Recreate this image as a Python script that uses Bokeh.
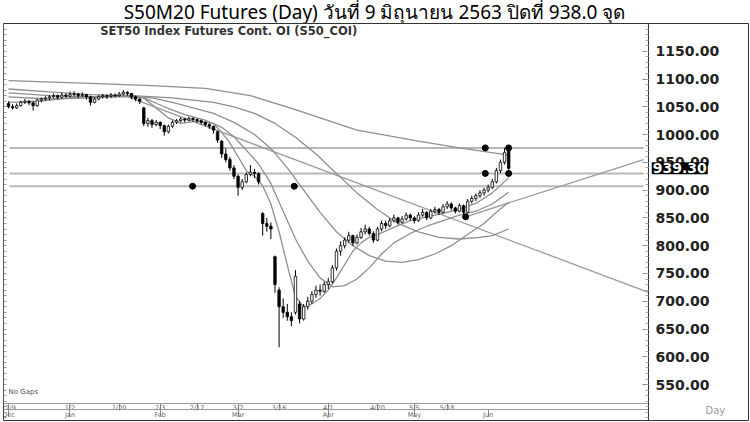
from bokeh.plotting import figure
from bokeh.models import Range1d, LinearAxis, FixedTicker, NumeralTickFormatter, Label, Div, ColumnDataSource
from bokeh.layouts import column
from bokeh.embed import file_html
from bokeh.resources import INLINE
from bokeh.core.properties import value

title_text = "S50M20 Futures (Day) วันที่ 9 มิถุนายน 2563 ปิดที่ 938.0 จุด"
chart_label = "SET50 Index Futures Cont. OI (S50_COI)"

# ---- OHLC (bar index 0 = 9 Dec 2019 ... 122 = 9 Jun 2020) ----
opens = [1056, 1050, 1048, 1052, 1058, 1060, 1057, 1052, 1062, 1064,
         1066, 1068, 1070, 1067, 1071, 1069, 1072, 1073, 1070, 1072,
         1068, 1058, 1064, 1068, 1070, 1069, 1071, 1070, 1073, 1076,
         1074, 1068, 1064, 1048, 1020, 1025, 1018, 1022, 1016, 1005,
         1015, 1022, 1025, 1028, 1026, 1029, 1027, 1025, 1022, 1018,
         1015, 1005, 988, 965, 955, 940, 925, 905, 915, 928,
         932, 930, 858, 840, 835, 780, 720, 690, 680, 672,
         680, 695, 668, 690, 700, 712, 720, 718, 730, 735,
         760, 790, 800, 810, 818, 805, 815, 825, 830, 822,
         810, 830, 840, 836, 845, 850, 842, 848, 855, 850,
         845, 855, 860, 850, 862, 865, 860, 870, 875, 868,
         862, 872, 860, 880, 885, 890, 895, 900, 905, 915,
         935, 950, 972]
highs = [1060, 1055, 1056, 1061, 1064, 1062, 1060, 1064, 1067, 1069,
         1071, 1074, 1072, 1075, 1074, 1077, 1078, 1075, 1076, 1073,
         1070, 1067, 1071, 1073, 1072, 1075, 1074, 1077, 1080, 1078,
         1075, 1070, 1066, 1050, 1030, 1028, 1026, 1024, 1018, 1018,
         1025, 1028, 1031, 1030, 1032, 1031, 1029, 1027, 1024, 1020,
         1016, 1007, 990, 975, 960, 945, 928, 920, 932, 945,
         938, 932, 860, 850, 842, 782, 725, 705, 695, 680,
         756, 700, 695, 708, 718, 728, 730, 735, 742, 765,
         795, 808, 815, 825, 820, 820, 832, 838, 834, 826,
         834, 845, 845, 850, 856, 852, 853, 860, 858, 853,
         860, 866, 862, 866, 870, 868, 875, 880, 878, 870,
         876, 874, 884, 890, 894, 900, 904, 910, 920, 940,
         955, 976, 977]
lows = [1047, 1045, 1046, 1050, 1055, 1053, 1043, 1050, 1058, 1061,
        1062, 1065, 1063, 1065, 1066, 1067, 1069, 1066, 1068, 1063,
        1052, 1056, 1062, 1065, 1064, 1066, 1067, 1068, 1071, 1070,
        1064, 1060, 1055, 1015, 1014, 1012, 1015, 1010, 998, 1002,
        1012, 1019, 1022, 1022, 1024, 1023, 1021, 1018, 1014, 1010,
        1002, 985, 958, 950, 935, 920, 890, 900, 912, 925,
        922, 910, 818, 825, 812, 715, 617, 670, 665, 655,
        676, 660, 665, 685, 695, 706, 710, 715, 722, 732,
        755, 782, 795, 805, 800, 802, 812, 820, 818, 805,
        808, 826, 830, 833, 842, 838, 840, 845, 845, 840,
        843, 852, 846, 848, 858, 855, 858, 866, 864, 858,
        860, 852, 858, 876, 880, 886, 890, 896, 902, 912,
        930, 946, 932]
closes = [1050, 1048, 1052, 1058, 1060, 1057, 1052, 1062, 1064, 1066,
          1068, 1070, 1067, 1071, 1069, 1072, 1073, 1070, 1072, 1068,
          1058, 1064, 1068, 1070, 1069, 1071, 1070, 1073, 1076, 1074,
          1068, 1064, 1060, 1020, 1025, 1018, 1022, 1016, 1005, 1015,
          1022, 1025, 1028, 1026, 1029, 1027, 1025, 1022, 1018, 1015,
          1008, 990, 965, 955, 940, 925, 905, 915, 928, 932,
          930, 915, 840, 835, 830, 730, 690, 680, 672, 665,
          745, 668, 690, 700, 712, 720, 718, 730, 735, 760,
          790, 800, 810, 818, 805, 815, 825, 830, 822, 810,
          830, 840, 836, 845, 850, 842, 848, 855, 850, 845,
          855, 860, 850, 862, 865, 860, 870, 875, 868, 862,
          872, 860, 880, 885, 890, 895, 900, 905, 915, 935,
          950, 968, 939.3]
last_price = "939.30"

# ---- moving averages (sampled at bar index) ----
ma_fast_x = [0, 8, 16, 24, 30, 33, 36, 39, 42, 46, 50, 52, 54, 56, 58, 60, 62, 64, 66, 68, 70, 72, 74, 76, 78, 80, 82, 84, 86, 88, 90, 94, 98, 102, 106, 110, 114, 118, 122]
ma_fast_v = [1058, 1060, 1067, 1069, 1071, 1066, 1048, 1030, 1020, 1024, 1020, 1004, 985, 960, 935, 925, 908, 875, 825, 765, 708, 690, 695, 705, 720, 742, 766, 790, 805, 815, 820, 833, 845, 852, 858, 866, 876, 895, 922]
ma_mid_x = [0, 10, 20, 28, 33, 38, 43, 48, 52, 55, 58, 61, 64, 67, 70, 73, 76, 79, 82, 85, 88, 91, 94, 98, 102, 106, 110, 114, 118, 122]
ma_mid_v = [1068, 1064, 1066, 1069, 1066, 1050, 1036, 1026, 1013, 996, 972, 947, 912, 862, 812, 772, 742, 726, 728, 740, 760, 785, 805, 822, 835, 845, 855, 862, 875, 896]
ma_slow_x = [0, 10, 20, 30, 35, 40, 45, 50, 55, 60, 64, 68, 72, 76, 80, 84, 88, 92, 96, 100, 104, 108, 112, 116, 119, 122]
ma_slow_v = [1075, 1070, 1068, 1068, 1066, 1058, 1048, 1038, 1022, 1000, 975, 940, 900, 860, 825, 800, 782, 772, 770, 775, 785, 800, 820, 840, 860, 878]
ma_long_x = [0, 10, 20, 30, 40, 50, 55, 60, 65, 70, 75, 80, 85, 90, 95, 100, 105, 110, 115, 118, 122]
ma_long_v = [1082, 1077, 1072, 1070, 1066, 1058, 1050, 1038, 1020, 995, 965, 930, 895, 865, 840, 825, 815, 812, 815, 818, 830]
ma_top_x = [0, 20, 35, 48, 59, 70, 85, 100, 110, 122]
ma_top_v = [1097, 1092, 1088, 1083, 1070, 1045, 1008, 988, 976, 963]

# ---- drawn lines ----
hline_levels = [976, 930, 907]
hline_start = 0.2
hline_end = 154.9
down_trend_x = [28, 156.1]
down_trend_v = [1071, 716]
up_trend_x = [111.5, 154.9]
up_trend_v = [852, 955]
dot_x = [44.9, 69.7, 116.3, 116.3, 122, 122, 111.5]
dot_v = [907, 907, 976, 930, 976, 930, 852]

# ---- axis tick labels ----
y_ticks = [550, 600, 650, 700, 750, 800, 850, 900, 950, 1000, 1050, 1100, 1150]
day_tick_idx = [0, 15, 27, 37, 46, 56, 66, 78, 90, 99, 107]
day_tick_lbl = ["12/9", "1/2", "1/20", "2/3", "2/17", "3/2", "3/16", "4/1", "4/20", "5/5", "5/18"]
mon_tick_idx = [0, 15, 37, 56, 78, 99, 117]
mon_tick_lbl = ["Dec", "Jan", "Feb", "Mar", "Apr", "May", "Jun"]

# ---------------------------------------------------------------
X0, X_SEP, X1 = -1.22, 156.1, 180.5          # frame edges and price-panel separator
Y0, Y_PRICE0, Y_MON, Y1 = 485.3, 516.4, 504.5, 1199.9

p = figure(width=749, height=399, x_range=Range1d(X0, X1), y_range=Range1d(Y0, Y1),
           output_backend="svg", toolbar_location=None,
           x_axis_location=None, y_axis_location=None,
           min_border_left=3, min_border_right=1, min_border_top=1, min_border_bottom=1,
           margin=(0, 0, 0, 0))
p.grid.visible = False
p.outline_line_color = "#333333"
p.outline_line_width = 1
p.background_fill_color = "white"
p.border_fill_color = "white"

minor = list(range(490, 1200, 10))
yr = LinearAxis(ticker=FixedTicker(ticks=y_ticks, minor_ticks=minor),
                formatter=NumeralTickFormatter(format="0.00"),
                fixed_location=X_SEP, bounds=(Y0, Y1))
yr.major_label_text_font = "DejaVu Sans"
yr.major_label_text_font_style = "bold"
yr.major_label_text_font_size = "14px"
yr.major_label_text_color = "#222222"
yr.major_tick_in = 6
yr.major_tick_out = 0
yr.minor_tick_in = 3
yr.minor_tick_out = 0
yr.axis_line_color = "#333333"
yr.major_tick_line_color = "#888888"
yr.minor_tick_line_color = "#aaaaaa"
yr.major_label_standoff = 7
p.add_layout(yr, "right")

yl = LinearAxis(ticker=FixedTicker(ticks=[], minor_ticks=minor), fixed_location=X0,
                bounds=(Y_PRICE0, Y1))
yl.major_tick_in = 0
yl.major_tick_out = 0
yl.minor_tick_in = 3
yl.minor_tick_out = 0
yl.axis_line_color = "#777777"
yl.minor_tick_line_color = "#999999"
p.add_layout(yl, "left")

def bottom_axis(idx, lbl, loc):
    ax = LinearAxis(ticker=FixedTicker(ticks=idx),
                    major_label_overrides={k: v for k, v in zip(idx, lbl)},
                    fixed_location=loc, bounds=(X0, X_SEP))
    ax.minor_tick_line_color = None
    ax.major_tick_in = 0
    ax.major_tick_out = 7
    ax.major_label_standoff = -6
    ax.major_label_text_align = "left"
    ax.major_label_text_font = "DejaVu Sans"
    ax.major_label_text_font_size = "6.5px"
    ax.major_label_text_color = "#666666"
    ax.axis_line_color = "#999999"
    ax.major_tick_line_color = "#888888"
    return ax

p.add_layout(bottom_axis(day_tick_idx, day_tick_lbl, Y_PRICE0), "below")
p.add_layout(bottom_axis(mon_tick_idx, mon_tick_lbl, Y_MON), "below")

# horizontal lines
for lv in hline_levels:
    p.line([hline_start, hline_end], [lv, lv], line_color="#b8b8b8", line_width=2)

# trend lines
p.line(down_trend_x, down_trend_v, line_color="#9a9a9a", line_width=1.3)
p.line(up_trend_x, up_trend_v, line_color="#9a9a9a", line_width=1.3)

# moving averages
for mx, mv in [(ma_top_x, ma_top_v), (ma_long_x, ma_long_v), (ma_slow_x, ma_slow_v),
               (ma_mid_x, ma_mid_v), (ma_fast_x, ma_fast_v)]:
    p.line(mx, mv, line_color="#8f8f8f", line_width=1.3)

# candles
bar_idx = list(range(len(closes)))
src = ColumnDataSource(dict(
    x=bar_idx, h=highs, l=lows,
    top=[max(o, c) for o, c in zip(opens, closes)],
    bot=[min(o, c) for o, c in zip(opens, closes)],
    fill=["white" if c >= o else "black" for o, c in zip(opens, closes)],
))
p.segment(x0="x", y0="h", x1="x", y1="l", source=src, line_color="black", line_width=1)
p.vbar(x="x", width=0.6, top="top", bottom="bot", fill_color="fill", line_color="black",
       line_width=0.8, source=src)

# anchor dots
p.scatter(dot_x, dot_v, size=6, color="black")

p.text(x=[0.0], y=[536], text=["No Gaps"], text_font=value("DejaVu Sans"), text_font_size="7px",
       text_color="#555555", text_baseline="middle")

p.add_layout(Label(x=22.4, y=1187, text=chart_label, text_font="DejaVu Sans", text_font_style="bold",
                   text_font_size="11.5px", text_color="#333333", text_baseline="middle"))
price_lbl = Label(x=156.9, y=939.3, text=last_price, text_font="DejaVu Sans", text_font_style="bold",
                  text_font_size="14px", text_color="white", background_fill_color="black",
                  text_baseline="middle")
try:
    price_lbl.padding = 1
except Exception:
    pass
p.add_layout(price_lbl)
p.add_layout(Label(x=170, y=503, text="Day", text_font="DejaVu Sans", text_font_size="10px",
                   text_color="#999999", text_baseline="middle"))

div = Div(text=title_text, width=749, height=22, margin=(0, 0, 0, 0),
          styles={"text-align": "center", "font-family": "Noto Sans, sans-serif",
                  "font-size": "19px", "line-height": "22px", "width": "749px",
                  "position": "relative", "top": "1px"})

layout = column(div, p, spacing=0)
open("out.html", "w").write(file_html(layout, INLINE))
